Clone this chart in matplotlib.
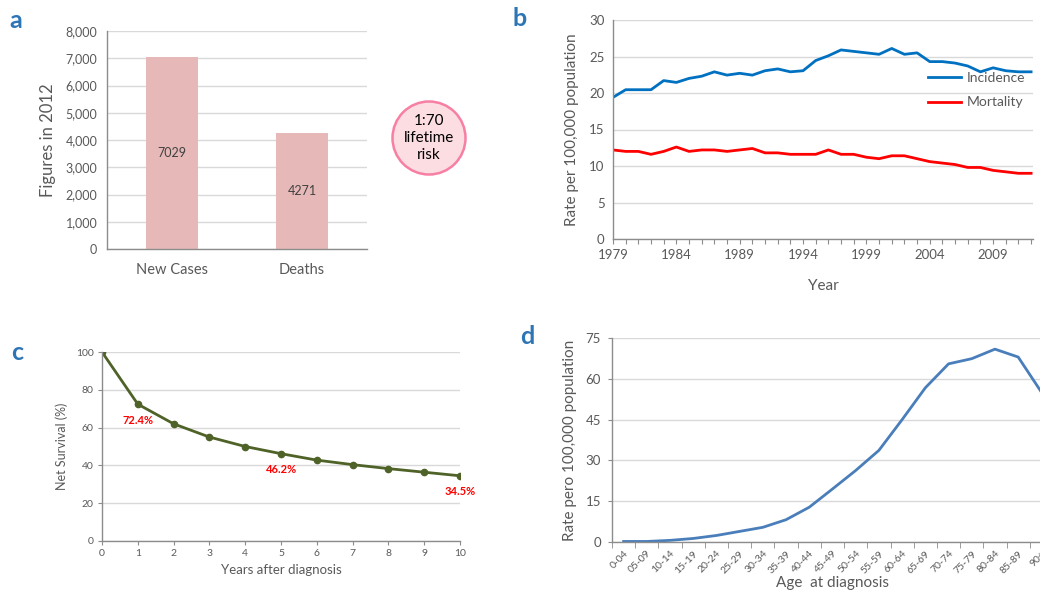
import matplotlib
matplotlib.use("Agg")
import matplotlib.pyplot as plt
from matplotlib.patches import Circle
from matplotlib.ticker import FixedLocator, FuncFormatter

plt.rcParams['font.family'] = ['Lato', 'DejaVu Sans']

# ---- data ----
bar_categories = ["New Cases", "Deaths"]
bar_values = [7029, 4271]
risk_text = "1:70\nlifetime\nrisk"

years = list(range(1979, 2013))
incidence = [19.4, 20.45, 20.45, 20.45, 21.7, 21.45, 22.0, 22.3, 22.9, 22.45,
             22.7, 22.45, 23.05, 23.3, 22.9, 23.05, 24.45, 25.1, 25.9, 25.7,
             25.5, 25.3, 26.1, 25.3, 25.5, 24.3, 24.3, 24.1, 23.7, 22.9,
             23.45, 23.05, 22.9, 22.9]
mortality = [12.2, 12.0, 12.0, 11.6, 12.0, 12.6, 12.0, 12.2, 12.2, 12.0,
             12.2, 12.4, 11.8, 11.8, 11.6, 11.6, 11.6, 12.2, 11.6, 11.6,
             11.2, 11.0, 11.4, 11.4, 11.0, 10.6, 10.4, 10.2, 9.8, 9.8,
             9.4, 9.2, 9.0, 9.0]

survival_years = list(range(0, 11))
survival = [100.0, 72.4, 62.0, 55.0, 50.0, 46.2, 42.8, 40.4, 38.3, 36.4, 34.5]
survival_labelled = {1: "72.4%", 5: "46.2%", 10: "34.5%"}

age_groups = ["0-04", "05-09", "10-14", "15-19", "20-24", "25-29", "30-34",
              "35-39", "40-44", "45-49", "50-54", "55-59", "60-64", "65-69",
              "70-74", "75-79", "80-84", "85-89", "90+"]
age_rate = [0.2, 0.2, 0.6, 1.3, 2.4, 3.9, 5.4, 8.2, 12.8, 19.5, 26.3, 33.7,
            45.0, 56.7, 65.5, 67.4, 70.9, 68.0, 55.1]

# ---- style ----
W, H = 1040, 599
GRID = "#d9d9d9"
SPINE = "#8c8c8c"
TICK = "#595959"
LETTER = "#2e75b6"

fig = plt.figure(figsize=(W / 100, H / 100), dpi=100)


def px_axes(left, top, right, bottom):
    return fig.add_axes([left / W, (H - bottom) / H, (right - left) / W, (bottom - top) / H])


def style(ax, size=8.5):
    for s in ("top", "right"):
        ax.spines[s].set_visible(False)
    for s in ("left", "bottom"):
        ax.spines[s].set_color(SPINE)
        ax.spines[s].set_linewidth(1.0)
    ax.grid(axis="y", color=GRID, linewidth=1.0)
    ax.set_axisbelow(True)
    ax.tick_params(colors=SPINE, labelcolor=TICK, labelsize=size)


# ---- panel a: bars ----
axa = px_axes(107, 31, 367, 249)
style(axa, 9)
xa = range(len(bar_categories))
axa.bar(xa, bar_values, width=0.4, color="#e6b9b8")
axa.set_xlim(-0.5, 1.5)
axa.set_ylim(0, 8000)
axa.set_yticks(range(0, 8001, 1000))
axa.yaxis.set_major_formatter(FuncFormatter(lambda v, p: f"{int(v):,}"))
axa.set_xticks(list(xa))
axa.set_xticklabels(bar_categories, fontsize=10.5)
axa.tick_params(axis="both", length=0, pad=7)
axa.tick_params(axis="x", pad=10)
for x, v in zip(xa, bar_values):
    axa.text(x, v / 2, str(v), ha="center", va="center", fontsize=9, color="#404040")
axa.set_ylabel("Figures in 2012", fontsize=12, color=TICK, labelpad=7)

# lifetime risk badge
axr = px_axes(389, 98, 469, 178)
axr.set_xlim(-40, 40)
axr.set_ylim(-40, 40)
axr.axis("off")
axr.add_patch(Circle((0, 0), 36.5, facecolor="#fcdde2", edgecolor="#f77fa4", linewidth=1.8))
axr.text(0, 0, risk_text, ha="center", va="center", fontsize=11, color="black",
         linespacing=1.25)

# ---- panel b: trends ----
axb = px_axes(613, 20, 1033, 239)
style(axb, 9)
axb.plot(years, incidence, color="#0070c0", linewidth=2.0, label="Incidence")
axb.plot(years, mortality, color="#ff0000", linewidth=2.0, label="Mortality")
axb.set_xlim(1979, 2012.15)
axb.set_ylim(0, 30)
axb.set_yticks(range(0, 31, 5))
axb.xaxis.set_major_locator(FixedLocator(years))
axb.xaxis.set_major_formatter(FuncFormatter(
    lambda v, p: str(int(round(v))) if (int(round(v)) - 1979) % 5 == 0 else ""))
axb.tick_params(axis="x", direction="out", length=3.5, labelsize=9.5, pad=4)
axb.tick_params(axis="y", length=0, labelsize=9.5, pad=6)
axb.set_ylabel("Rate per 100,000 population", fontsize=11, color=TICK, labelpad=7)
axb.set_xlabel("Year", fontsize=11, color=TICK, labelpad=13)
axb.legend(loc="upper left", bbox_to_anchor=(0.72, 0.82), frameon=False,
           fontsize=10, handlelength=2.4, handletextpad=0.4, labelspacing=0.9,
           labelcolor=TICK)

# ---- panel c: survival ----
axc = px_axes(102, 352, 460, 541)
style(axc, 7.5)
axc.plot(survival_years, survival, color="#4f6228", linewidth=2.0,
         marker="o", markersize=4.5)
axc.set_xlim(0, 10)
axc.set_ylim(0, 100)
axc.set_xticks(survival_years)
axc.set_yticks(range(0, 101, 20))
axc.tick_params(axis="both", direction="out", length=3, pad=3)
for x, lab in survival_labelled.items():
    axc.annotate(lab, (x, survival[x]), xytext=(0, -16), textcoords="offset pixels",
                 ha="center", va="center", fontsize=8, fontweight="bold",
                 color="#ff0000")
axc.set_ylabel("Net Survival (%)", fontsize=9, color=TICK, labelpad=6)
axc.set_xlabel("Years after diagnosis", fontsize=9.5, color=TICK, labelpad=4)

# ---- panel d: age-specific rates ----
axd = px_axes(612, 338, 1053, 542)
style(axd, 9)
xd = list(range(len(age_groups)))
axd.plot(xd, age_rate, color="#4a7ebb", linewidth=2.0)
axd.set_xlim(-0.5, len(age_groups) - 0.5)
axd.set_ylim(0, 75)
axd.set_yticks(range(0, 76, 15))
axd.set_xticks(xd)
axd.set_xticklabels(age_groups, rotation=45, ha="right", rotation_mode="anchor",
                    fontsize=7.5)
axd.set_xticks([i - 0.5 for i in range(len(age_groups) + 1)], minor=True)
axd.tick_params(axis="x", which="major", length=0, pad=5)
axd.tick_params(axis="x", which="minor", direction="out", length=4, color=SPINE)
axd.tick_params(axis="y", direction="out", length=3, labelsize=9.5, pad=5)
axd.set_ylabel("Rate pero 100,000 population", fontsize=11, color=TICK, labelpad=6)
axd.set_xlabel("Age  at diagnosis", fontsize=11, color=TICK, labelpad=1)

# ---- panel letters ----
for lab, x, y in (("a", 16, 20), ("b", 520, 19), ("c", 17, 352), ("d", 527, 337)):
    fig.text(x / W, (H - y) / H, lab, ha="center", va="center", fontsize=18,
             fontweight="bold", color=LETTER)

fig.savefig("out.png", dpi=100)
